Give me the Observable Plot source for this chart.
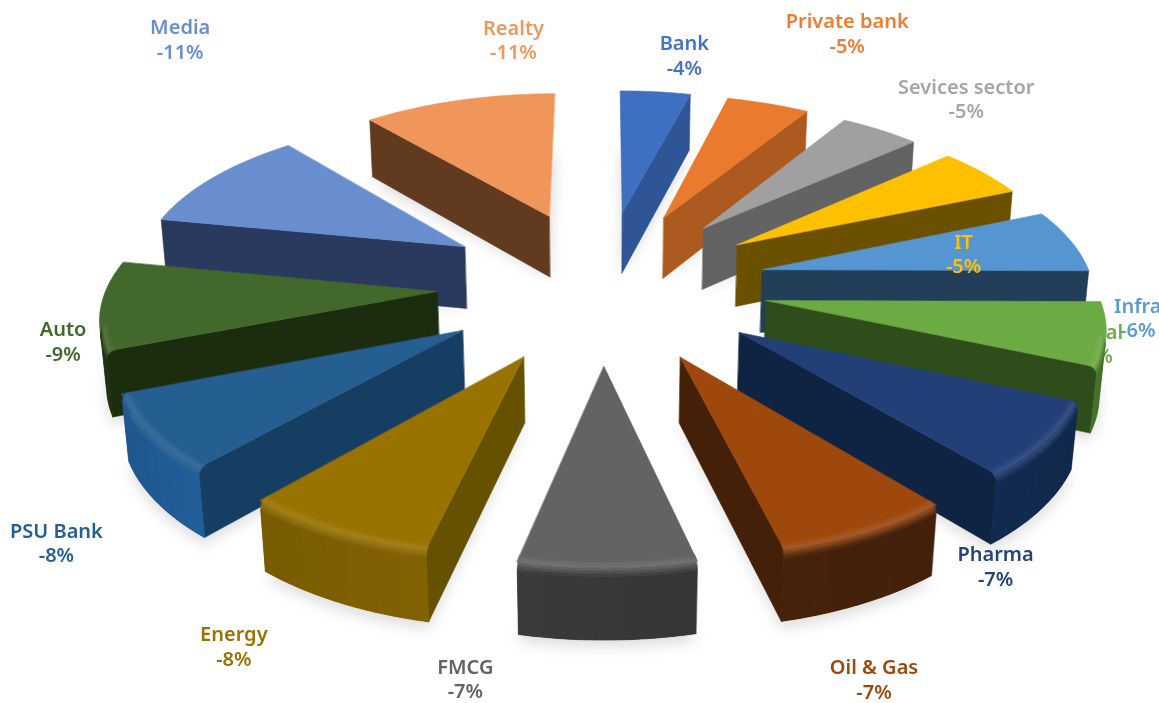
<!DOCTYPE html>
<html><head><meta charset="utf-8">
<script src="https://cdn.jsdelivr.net/npm/d3@7"></script>
<script src="https://cdn.jsdelivr.net/npm/@observablehq/plot@0.6"></script>
<style>
html,body{margin:0;padding:0;background:#fff;overflow:hidden}
svg{display:block;filter:blur(.45px)}
.shadow{filter:blur(7px)}
</style></head><body><div id="chart"></div>
<script>
// Data (labels show them rounded)
const sectors = ["Bank","Private bank","Sevices sector","IT","Infra","Metal","Pharma","Oil & Gas","FMCG","Energy","PSU Bank","Auto","Media","Realty"];
const returns = [-4,-4.7,-4.55,-5.2,-6.4,-6.4,-7.4,-7.2,-7.1,-7.9,-7.5,-9,-10.7,-11];

// Styles
const topColors  = ["#3f6fc0","#e97a2e","#a0a0a0","#ffc000","#5495d2","#6cab44","#223f78","#9e480e","#636363","#997300","#255e91","#43682b","#698ed0","#f0965a"];
const wallColors = ["#2f5597","#ad5a21","#636363","#6b5000","#223e58","#2f4d1c","#0f2342","#442009","#333333","#665100","#163d62","#1b2c0f","#2a3a5e","#623a20"];
const rimColors  = ["#2f5597","#ad5a21","#636363","#6b5000","#3f74a8","#44702a","#12294e","#44210a","#383838","#7d5e02","#205a92","#1f3210","#2a3a5e","#623a20"];
const labelColors= ["#4472c4","#ed7d31","#a5a5a5","#ffc000","#5b9bd5","#70ad47","#264478","#9e480e","#636363","#997300","#255e91","#43682b","#698ed0","#f1975a"];
// label shift from the slice's outer midpoint
const labelShift = [[29,-37],[79,-71],[86,-32],[-19,81],[67,76],[-11,9],[-52,125],[7,147],[-142,111],[-101,115],[-93,109],[-38,35],[-33,-139],[55,-61]];

// Pie geometry (3D projection parameters)
const W = 1159, H = 703, cx = 602, cy = 284;
const explode = 165, R = 330, tiltSin = .465, tiltCos = .89, persp = .000376;
const thick = 72, bevel = 9;
const project = (X, Y, Z = 0) => {
  const s = 1 / (1 - persp * Y - persp * .5 * Z);
  return [cx + X * s, cy + (tiltSin * Y - tiltCos * Z) * s];
};
const total = d3.sum(returns, Math.abs);
let cum = 0;
const slices = sectors.map((name, i) => {
  const a0 = cum / total * 2 * Math.PI;
  cum += Math.abs(returns[i]);
  const a1 = cum / total * 2 * Math.PI, mid = (a0 + a1) / 2;
  return {name, i, a0, a1, mid, ox: explode * Math.sin(mid), oy: -explode * Math.cos(mid)};
});
const camY = tiltCos / persp;
const polar = (s, a, r) => [s.ox + r * Math.sin(a), s.oy - r * Math.cos(a)];

const rows = [], shadowRows = [];
let fid = 0;
function face(pts, color, target = rows, edge = color) {
  const z = fid++;
  pts.forEach(p => target.push({z, x: p[0], y: p[1], color, edge}));
}
const order = slices.slice().sort((a, b) => a.oy - b.oy);
for (const s of order) {
  const n = 32, arc = d3.range(n + 1).map(k => s.a0 + (s.a1 - s.a0) * k / n);
  const P = (a, r, z) => { const [X, Y] = polar(s, a, r); return project(X, Y, z); };
  const apex = (z) => project(s.ox, s.oy, z);
  const topC = topColors[s.i], wallC = wallColors[s.i], rimC = rimColors[s.i];
  const facing = a => { const [mx, my] = polar(s, a, R); return Math.sin(a) * (0 - mx) - Math.cos(a) * (camY - my) > 0; };
  const vis = arc.filter(facing);
  // ground shadow
  face([apex(-thick), ...arc.map(a => { const p = P(a, R, -thick); return [p[0], p[1] + 7]; })], "#000", shadowRows);
  // radial walls
  const wall = (a, sign) => {
    const nx = sign * Math.cos(a), ny = sign * Math.sin(a);
    const [mx, my] = polar(s, a, R / 2);
    if (nx * (0 - mx) + ny * (camY - my) > 100)
      face([apex(0), P(a, R, 0), P(a, R, -thick), apex(-thick)], wallC);
  };
  wall(s.a0, -1); wall(s.a1, 1);
  // outer wall: base plus soft unstroked bands
  if (vis.length > 1) {
    face([...vis.map(a => P(a, R, -bevel)), ...vis.slice().reverse().map(a => P(a, R, -thick))], rimC);
    const bands = 7, span = vis.length - 1;
    for (let k = 0; k < bands; k++) {
      const i0 = Math.round(k / bands * span), i1 = Math.round((k + 1) / bands * span);
      const seg = vis.slice(i0, i1 + 1);
      const shade = d3.color(rimC).brighter(.08 * Math.cos(k / (bands - 1) * Math.PI) * (s.mid > Math.PI ? 1 : -1)).formatHex();
      face([...seg.map(a => P(a, R, -bevel)), ...seg.slice().reverse().map(a => P(a, R, -thick))], shade, rows, "none");
    }
  }
  // top face, out to the outer edge
  face([apex(0), ...arc.map(a => P(a, R, 0))], topC);
  // rounded rim on the parts facing the viewer
  if (vis.length > 1) {
    const steps = 6, hi = d3.interpolateRgb(topC, "#fff")(.1);
    for (let j = 0; j < steps; j++) {
      const t0 = j / steps * Math.PI / 2, t1 = (j + 1) / steps * Math.PI / 2;
      const r0 = R - bevel + bevel * Math.sin(t0), z0 = -bevel * (1 - Math.cos(t0));
      const r1 = R - bevel + bevel * Math.sin(t1), z1 = -bevel * (1 - Math.cos(t1));
      const t = (j + .5) / steps;
      const c = t < .4 ? d3.interpolateRgb(topC, hi)(t / .4) : d3.interpolateRgb(hi, rimC)((t - .4) / .6);
      face([...vis.map(a => P(a, r0, z0)), ...vis.slice().reverse().map(a => P(a, r1, z1))], d3.color(c).formatHex());
    }
  }
}

const labels = slices.map(s => {
  const [X, Y] = polar(s, s.mid, R);
  const [x, y] = project(X, Y, 0);
  return {x: x + labelShift[s.i][0], y: y + labelShift[s.i][1],
          text: `${s.name}\n-${Math.round(Math.abs(returns[s.i]))}%`, color: labelColors[s.i], behind: s.name === "Metal"};
});
const textOpts = {x: "x", y: "y", text: "text", fill: "color", fontSize: 20, fontWeight: 600,
  fontFamily: "Noto Sans, sans-serif", lineHeight: 1.22, textAnchor: "middle"};

const plot = Plot.plot({
  width: W, height: H, margin: 0,
  x: {domain: [0, W], range: [0, W], axis: null},
  y: {domain: [0, H], range: [0, H], axis: null},
  marks: [
    Plot.line(shadowRows, {x: "x", y: "y", z: "z", fill: "#000", fillOpacity: .13, stroke: "none", curve: "linear-closed", className: "shadow"}),
    Plot.text(labels.filter(d => d.behind), textOpts),
    Plot.line(rows, {x: "x", y: "y", z: "z", fill: "color", stroke: "edge", strokeWidth: .6, curve: "linear-closed"}),
    Plot.text(labels.filter(d => !d.behind), textOpts)
  ]
});
document.getElementById("chart").append(plot);
</script></body></html>
